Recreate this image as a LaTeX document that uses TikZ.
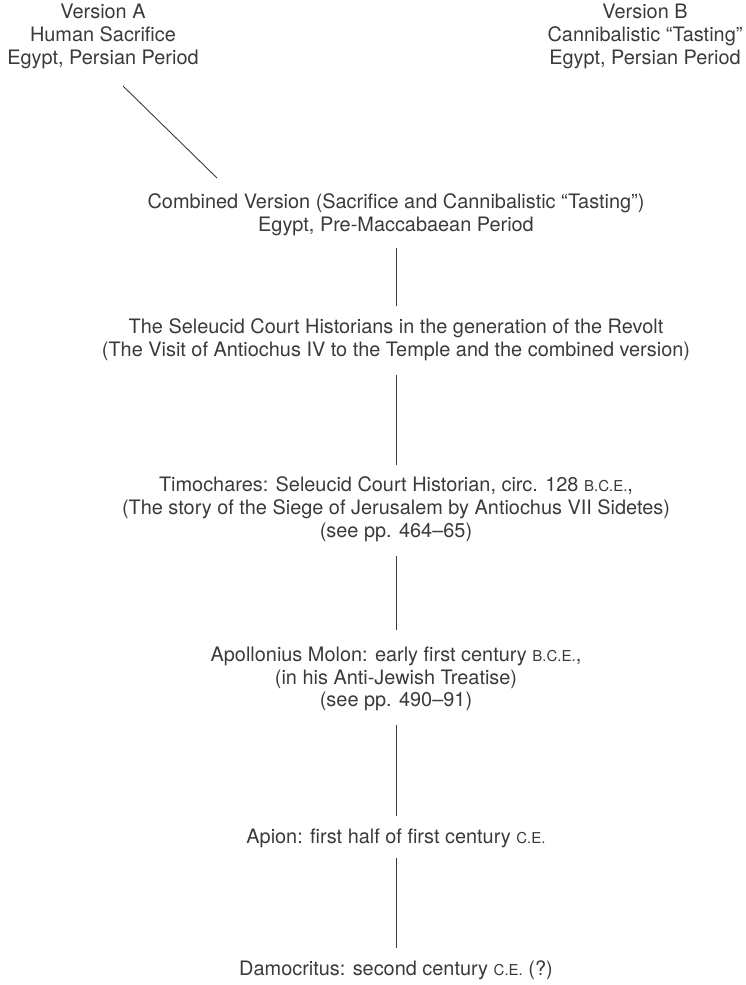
\documentclass[tikz,border=0pt]{standalone}
\usepackage{fontspec}
\setmainfont{TeX Gyre Heros}
\definecolor{ink}{HTML}{3A3A3A}
\newcommand{\smc}[1]{{\fontsize{15}{22.8}\selectfont #1}}
\tikzset{
  lbl/.style={inner sep=0pt, align=center, text=ink, font=\fontsize{19.9}{22.8}\selectfont},
  link/.style={draw=ink, line width=0.9pt}
}
\begin{document}
\begin{tikzpicture}[x=1pt,y=-1pt]
\useasboundingbox (0,0) rectangle (745,985);
\node[lbl] (va) at (103,36.5) {Version A\\Human Sacrifice\\Egypt, Persian Period};
\node[lbl] (vb) at (645,36.5) {Version B\\Cannibalistic “Tasting”\\Egypt, Persian Period};
\node[lbl] (comb) at (396,214.5) {Combined Version (Sacrifice and Cannibalistic “Tasting”)\\Egypt, Pre-Maccabaean Period};
\node[lbl] (sel) at (396,339.5) {The Seleucid Court Historians in the generation of the Revolt\\(The Visit of Antiochus IV to the Temple and the combined version)};
\node[lbl] (tim) at (396,509) {Timochares: Seleucid Court Historian, circ. 128 \smc{B.C.E.},\\(The story of the Siege of Jerusalem by Antiochus VII Sidetes)\\(see pp. 464–65)};
\node[lbl] (apo) at (396,679) {Apollonius Molon: early first century \smc{B.C.E.},\\(in his Anti-Jewish Treatise)\\(see pp. 490–91)};
\node[lbl] (api) at (396,838) {Apion: first half of first century \smc{C.E.}};
\node[lbl] (dam) at (396,970) {Damocritus: second century \smc{C.E.} (?)};
\coordinate (d1) at (123,86);
\coordinate (d2) at (217,178);
\draw[link] (d1) -- (d2);
\draw[link] (comb.south |- 0,248) -- (sel.north |- 0,306);
\draw[link] (sel.south |- 0,375) -- (tim.north |- 0,465);
\draw[link] (tim.south |- 0,556) -- (apo.north |- 0,630);
\draw[link] (apo.south |- 0,725) -- (api.north |- 0,816);
\draw[link] (api.south |- 0,858) -- (dam.north |- 0,948);
\end{tikzpicture}
\end{document}
